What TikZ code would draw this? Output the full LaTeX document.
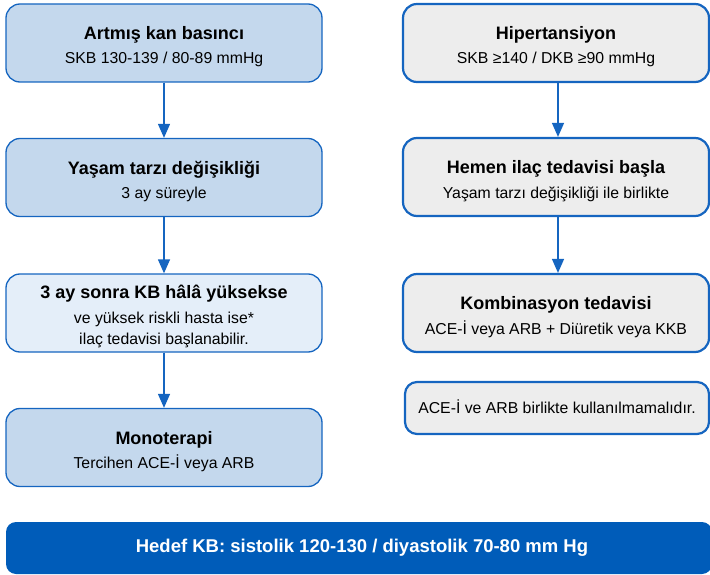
\documentclass[tikz,border=0pt]{standalone}
\usepackage{fontspec}
\setmainfont{Liberation Sans}
\usetikzlibrary{arrows.meta}
\definecolor{edgeblue}{RGB}{21,101,192}
\definecolor{fillblue}{RGB}{196,216,237}
\definecolor{paleblue}{RGB}{228,238,249}
\definecolor{fillgray}{RGB}{237,237,237}
\definecolor{barblue}{RGB}{0,92,185}
\tikzset{
  box/.style={rectangle, rounded corners=14pt, align=center, inner sep=0pt,
    font=\fontsize{15.8pt}{24.5pt}\selectfont, text=black},
  lbox/.style={box, draw=edgeblue, line width=1.3pt, fill=fillblue,
    minimum width=316pt, minimum height=78pt},
  rbox/.style={box, draw=edgeblue, line width=2.2pt, fill=fillgray,
    minimum width=306pt, minimum height=78pt},
  flow/.style={draw=edgeblue, line width=1.3pt,
    -{Triangle[width=12pt,length=14pt]}, fill=edgeblue},
}
% bold heading line with a fixed top strut, and a fixed bottom strut for the last line
\newcommand{\hd}[1]{{\bfseries\fontsize{18pt}{24.5pt}\selectfont\rule{0pt}{22.5pt}#1}}
\newcommand{\lastln}{\rule[-5pt]{0pt}{5pt}}
\begin{document}
\begin{tikzpicture}[x=1pt,y=-1pt]
\useasboundingbox (0,0) rectangle (710,575);

% left column: staged path
\node[lbox] (a1) at (164,43) {\hd{Artmış kan basıncı}\\SKB 130-139 / 80-89 mmHg\lastln};
\node[lbox] (a2) at (164,177.5) {\hd{Yaşam tarzı değişikliği}\\3 ay süreyle\lastln};
\node[lbox, fill=paleblue] (a3) at (164,313)
  {\hd{3 ay sonra KB hâlâ yüksekse}\\ve yüksek riskli hasta ise*\\[-3pt]ilaç tedavisi başlanabilir.\lastln};
\node[lbox] (a4) at (164,447.5) {\hd{Monoterapi}\\Tercihen ACE-İ veya ARB\lastln};

% right column: immediate treatment
\node[rbox] (b1) at (556,43) {\hd{Hipertansiyon}\\SKB ≥140 / DKB ≥90 mmHg\lastln};
\node[rbox] (b2) at (556,177) {\hd{Hemen ilaç tedavisi başla}\\Yaşam tarzı değişikliği ile birlikte\lastln};
\node[rbox] (b3) at (556,313) {\hd{Kombinasyon tedavisi}\\ACE-İ veya ARB + Diüretik veya KKB\lastln};
\node[rbox, minimum width=304pt, minimum height=52pt, rounded corners=12pt] (b4) at (557,408)
  {\rule[-3.6pt]{0pt}{15pt}ACE-İ ve ARB birlikte kullanılmamalıdır.};

% target bar
\node[rectangle, rounded corners=10pt, fill=barblue, minimum width=706pt, minimum height=52pt,
  text=white, font=\bfseries\fontsize{18.5pt}{22pt}\selectfont, inner sep=0pt] (goal) at (359,548)
  {\hspace*{6pt}Hedef KB: sistolik 120-130 / diyastolik 70-80 mm Hg};

% connectors
\draw[flow] (a1.south) -- (a2.north);
\draw[flow] (a2.south) -- (a3.north);
\draw[flow] (a3.south) -- (a4.north);
\draw[flow] ([xshift=2pt]b1.south) -- ([xshift=2pt]b2.north);
\draw[flow] ([xshift=2pt]b2.south) -- ([xshift=2pt]b3.north);
\end{tikzpicture}
\end{document}
